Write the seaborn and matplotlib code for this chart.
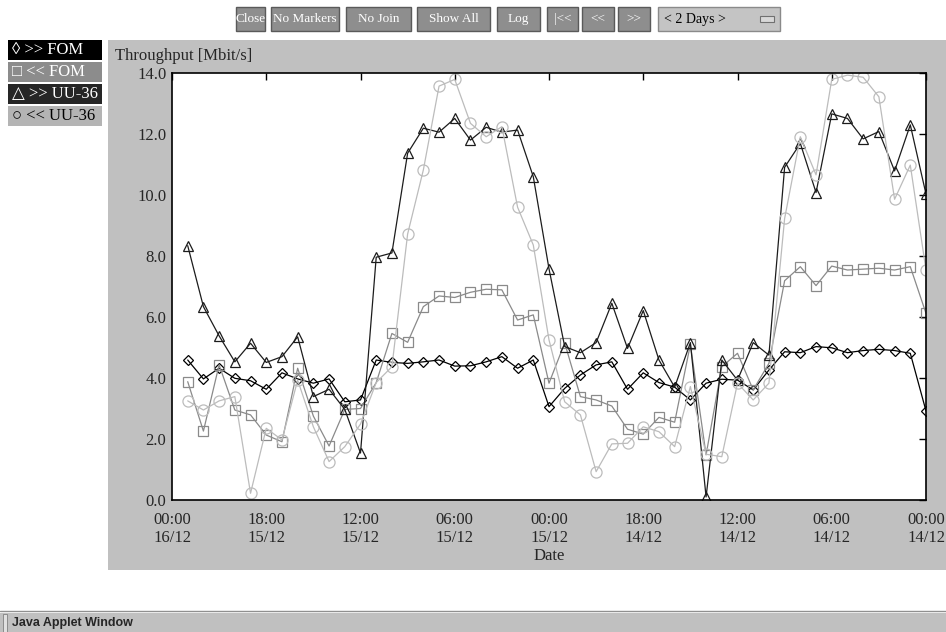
import matplotlib
matplotlib.use("Agg")
import matplotlib.pyplot as plt
import matplotlib.dates as mdates
from matplotlib.patches import Rectangle
import pandas as pd
import seaborn as sns

sns.set_style("white")
plt.rcParams["font.family"] = ["Liberation Serif", "DejaVu Sans"]

# hourly samples, left (latest) to right (earliest)
times = pd.date_range(end="2003-12-15 23:00", periods=48, freq="h")[::-1]

fom_out = [4.59, 3.97, 4.32, 3.99, 3.91, 3.63, 4.17, 3.97, 3.83, 3.97, 3.22, 3.28,
           4.59, 4.51, 4.48, 4.53, 4.59, 4.39, 4.40, 4.53, 4.70, 4.32, 4.59, 3.06,
           3.66, 4.10, 4.43, 4.53, 3.63, 4.17, 3.85, 3.70, 3.28, 3.83, 3.96, 3.93,
           3.61, 4.26, 4.86, 4.83, 5.03, 4.99, 4.83, 4.90, 4.94, 4.90, 4.81, 2.92]
fom_in = [3.88, 2.26, 4.43, 2.95, 2.79, 2.13, 1.91, 4.32, 2.75, 1.77, 2.97, 3.00,
          3.85, 5.46, 5.17, 6.34, 6.69, 6.64, 6.81, 6.91, 6.89, 5.90, 6.07, 3.83,
          5.15, 3.39, 3.28, 3.08, 2.32, 2.16, 2.71, 2.55, 5.10, 1.48, 4.37, 4.81,
          3.61, 4.48, 7.19, 7.65, 7.03, 7.67, 7.54, 7.57, 7.60, 7.54, 7.65, 6.12]
uu_out = [8.34, 6.34, 5.38, 4.53, 5.14, 4.51, 4.70, 5.35, 3.39, 3.63, 2.97, 1.54,
          7.96, 8.10, 11.37, 12.19, 12.06, 12.51, 11.80, 12.22, 12.06, 12.13, 10.60, 7.58,
          5.03, 4.83, 5.16, 6.45, 4.97, 6.21, 4.59, 3.70, 5.16, 0.10, 4.59, 3.93,
          5.16, 4.75, 10.91, 11.69, 10.08, 12.66, 12.51, 11.84, 12.08, 10.79, 12.30, 10.03]
uu_in = [3.25, 2.95, 3.25, 3.39, 0.22, 2.35, 1.97, 3.93, 2.40, 1.26, 1.75, 2.49,
         3.85, 4.37, 8.72, 10.82, 13.57, 13.79, 12.35, 11.91, 12.24, 9.60, 8.36, 5.25,
         3.22, 2.79, 0.93, 1.84, 1.86, 2.40, 2.24, 1.75, 3.72, 1.50, 1.42, 3.83,
         3.28, 3.83, 9.23, 11.91, 10.66, 13.79, 13.93, 13.86, 13.22, 9.86, 10.98, 7.54]

series = [
    (">> FOM", fom_out, "#000000", "D", 5.5),
    ("<< FOM", fom_in, "#8a8a8a", "s", 7),
    (">> UU-36", uu_out, "#1c1c1c", "^", 7),
    ("<< UU-36", uu_in, "#bcbcbc", "o", 8),
]

legend_boxes = [
    ("\u25ca >> FOM", "#000000", "white"),
    ("\u25a1 << FOM", "#8c8c8c", "white"),
    ("\u25b3 >> UU-36", "#262626", "white"),
    ("\u25cb << UU-36", "#b4b4b4", "black"),
]

buttons = [("Close", 236, 265), ("No Markers", 271, 339), ("No Join", 346, 411),
           ("Show All", 417, 490), ("Log", 497, 540), ("|<<", 547, 578),
           ("<<", 582, 614), (">>", 618, 650)]

W, H = 946, 632
fig = plt.figure(figsize=(9.46, 6.32), dpi=100)
fig.patch.set_facecolor("white")


def box(x0, y0, x1, y1, **kw):
    fig.add_artist(Rectangle((x0 / W, 1 - y1 / H), (x1 - x0) / W, (y1 - y0) / H,
                             transform=fig.transFigure, **kw))


# grey panel behind the chart
box(108, 40, 946, 570, facecolor="#c0c0c0", edgecolor="none", zorder=0)

# toolbar buttons
for label, x0, x1 in buttons:
    box(x0, 7, x1, 31, facecolor="#8e8e8e", edgecolor="#5a5a5a", lw=1)
    fig.text((x0 + x1) / 2 / W, 1 - 19 / H, label, ha="center", va="center",
             color="white", fontsize=9.5)
box(658, 7, 780, 31, facecolor="#c4c4c4", edgecolor="#8a8a8a", lw=1)
fig.text(664 / W, 1 - 19 / H, "< 2 Days >", ha="left", va="center",
         color="black", fontsize=10)
box(760, 16, 774, 22, facecolor="#d8d8d8", edgecolor="#707070", lw=0.8)

# series legend boxes
for i, (label, bg, fg) in enumerate(legend_boxes):
    y0 = 40 + i * 22
    box(8, y0, 102, y0 + 20, facecolor=bg, edgecolor="none")
    fig.text(12 / W, 1 - (y0 + 10) / H, label, ha="left", va="center",
             color=fg, fontsize=12)

fig.text(115 / W, 1 - 56 / H, "Throughput [Mbit/s]", ha="left", va="center",
         fontsize=12)

ax = fig.add_axes([172 / W, 1 - 500 / H, 754 / W, 427 / H])
ax.set_facecolor("white")

for name, vals, col, mk, ms in series:
    df = pd.DataFrame({"time": times, "value": vals})
    sns.lineplot(data=df, x="time", y="value", ax=ax, color=col, lw=0.9,
                 marker=mk, markersize=ms, markerfacecolor="none",
                 markeredgecolor=col, markeredgewidth=0.9)

ax.set_xlim(pd.Timestamp("2003-12-16 00:00"), pd.Timestamp("2003-12-14 00:00"))
ax.set_ylim(0, 14)
ax.set_yticks(range(0, 15, 2))
ax.set_yticklabels([f"{v:.1f}" for v in range(0, 15, 2)])
ax.xaxis.set_major_locator(mdates.HourLocator(byhour=[0, 6, 12, 18]))
ax.xaxis.set_major_formatter(mdates.DateFormatter("%H:%M\n%d/%m"))
ax.tick_params(direction="in", length=5, width=1, color="black",
               top=True, right=True, labelsize=12)
ax.tick_params(axis="y", pad=4)
ax.tick_params(axis="x", pad=9)
for lbl in ax.get_xticklabels():
    lbl.set_linespacing(1.15)
for s in ax.spines.values():
    s.set_color("black")
    s.set_linewidth(1.2)
ax.set_xlabel("Date", fontsize=12, labelpad=1)
ax.set_ylabel("")

# applet status bar
fig.add_artist(plt.Line2D([0, 1], [1 - 611 / H, 1 - 611 / H], color="#909090",
                          lw=1, transform=fig.transFigure))
box(0, 613, 946, 632, facecolor="#c0c0c0", edgecolor="none")
box(3, 614, 7, 632, facecolor="#e0e0e0", edgecolor="#808080", lw=0.6)
fig.text(12 / W, 1 - 623 / H, "Java Applet Window", ha="left", va="center",
         fontsize=9, fontweight="bold", family=["Liberation Sans", "DejaVu Sans"])

fig.savefig("out.png", dpi=100)
